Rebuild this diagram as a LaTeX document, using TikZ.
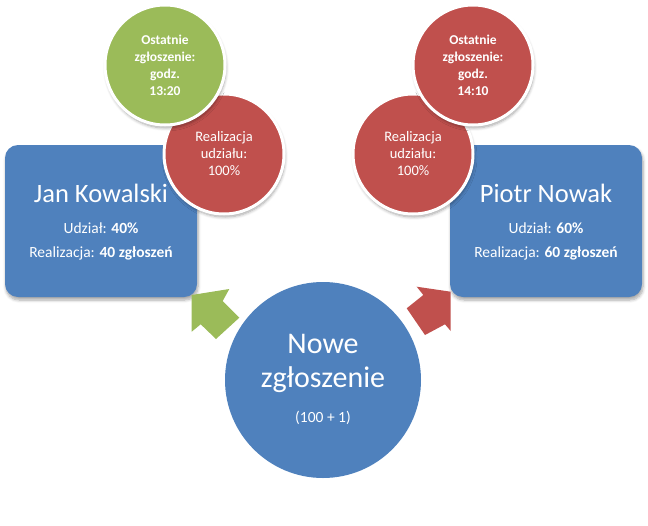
\documentclass[tikz,border=0pt]{standalone}
\usepackage{fontspec}
\setmainfont{Carlito}
\usetikzlibrary{shadows.blur}
\definecolor{oblue}{HTML}{4F81BD}
\definecolor{ored}{HTML}{C0504D}
\definecolor{ogreen}{HTML}{9BBB59}
\begin{document}
\begin{tikzpicture}[x=1pt,y=-1pt,
  softshadow/.style={blur shadow={shadow xshift=1pt, shadow yshift=-3pt, shadow blur steps=6, shadow blur radius=3pt, shadow opacity=35}},
  person/.style={fill=oblue, rounded corners=13pt, minimum width=192pt, minimum height=152pt, inner sep=0pt, softshadow},
  bubble/.style={circle, draw=white, line width=3pt, minimum size=120pt, inner sep=0pt, align=center, text=white, softshadow},
  lasttxt/.style={font=\bfseries\fontsize{13.5}{17}\selectfont},
  realtxt/.style={font=\fontsize{14.5}{17}\selectfont},
  titletxt/.style={text=white, anchor=base, inner sep=0pt, font=\fontsize{26.5}{30}\selectfont},
  infotxt/.style={text=white, anchor=base, inner sep=0pt, font=\fontsize{15.5}{18}\selectfont},
  bigtxt/.style={text=white, anchor=base, inner sep=0pt, font=\fontsize{30}{34}\selectfont},
  smalltxt/.style={text=white, anchor=base, inner sep=0pt, font=\fontsize{15.5}{17}\selectfont}
]
\useasboundingbox (0,0) rectangle (648,525);

% person boxes
\node[person] (jan) at (101,221) {};
\node[person] (piotr) at (546,221) {};
\node[titletxt] (janname) at (101,202) {Jan Kowalski};
\node[infotxt] (janshare) at (101,233) {Udział: \textbf{40\%}};
\node[infotxt] (janreal) at (101,257) {Realizacja: \textbf{40 zgłoszeń}};
\node[titletxt] (piotrname) at (546,202) {Piotr Nowak};
\node[infotxt] (piotrshare) at (546,233) {Udział: \textbf{60\%}};
\node[infotxt] (piotrreal) at (546,257) {Realizacja: \textbf{60 zgłoszeń}};

% bubbles left
\node[bubble, fill=ored, realtxt] (janrealb) at (224,154) {Realizacja\\udziału:\\100\%};
\node[bubble, fill=ogreen, lasttxt] (janlast) at (165,65) {Ostatnie\\zgłoszenie:\\godz.\\13:20};

% bubbles right
\node[bubble, fill=ored, realtxt] (piotrrealb) at (413,154) {Realizacja\\udziału:\\100\%};
\node[bubble, fill=ored, lasttxt] (piotrlast) at (473,65) {Ostatnie\\zgłoszenie:\\godz.\\14:10};

% central circle
\node[circle, fill=oblue, minimum size=196pt, inner sep=0pt] (nowe) at (323,380) {};
\node[bigtxt] (nowe1) at (323,353) {Nowe};
\node[bigtxt] (nowe2) at (323,387) {zgłoszenie};
\node[smalltxt] (nowe3) at (323,422) {(100 + 1)};

% arrows
\coordinate (ga) at (191.7,295);
\coordinate (gb) at (191.7,331.7);
\coordinate (gc) at (200.7,324.3);
\coordinate (gd) at (216,339);
\coordinate (ge) at (239.3,317.7);
\coordinate (gf) at (222.7,301);
\coordinate (gg) at (229.3,289);
\fill[ogreen] (ga) -- (gb) -- (gc) -- (gd) -- (ge) -- (gf) -- (gg) -- cycle;

\coordinate (ra) at (450.7,291.7);
\coordinate (rb) at (450.7,331);
\coordinate (rc) at (445,324.3);
\coordinate (rd) at (425,335);
\coordinate (re) at (406.7,308.3);
\coordinate (rf) at (423.3,295);
\coordinate (rg) at (416.7,286.7);
\fill[ored] (ra) -- (rb) -- (rc) -- (rd) -- (re) -- (rf) -- (rg) -- cycle;
\end{tikzpicture}
\end{document}
